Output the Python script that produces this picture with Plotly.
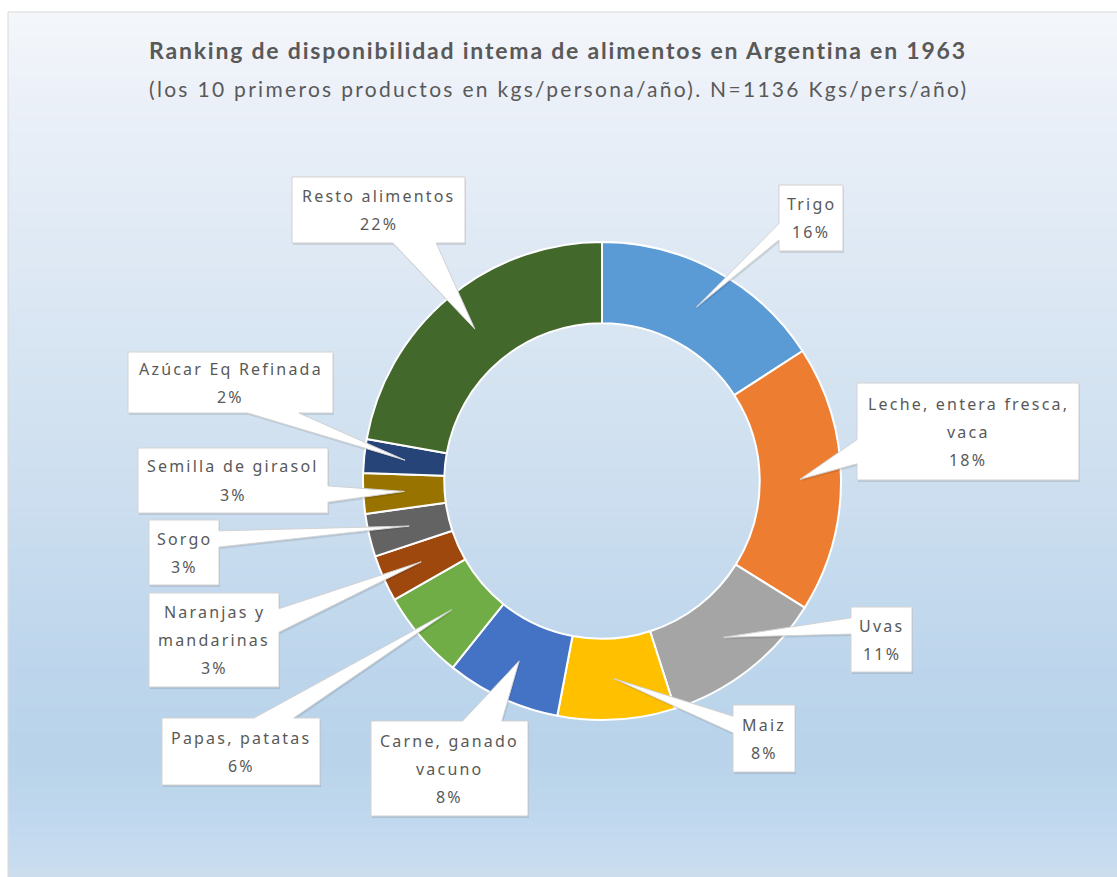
"""
Dona con llamadas tipo Excel: disponibilidad interna de alimentos en Argentina, 1963.
"""

import math

import plotly.graph_objects as go

# Datos (kgs/persona/año, N = 1136)
CATEGORIAS = [
    "Trigo", "Leche, entera fresca, vaca", "Uvas", "Maiz", "Carne, ganado vacuno",
    "Papas, patatas", "Naranjas y mandarinas", "Sorgo", "Semilla de girasol",
    "Azúcar Eq Refinada", "Resto alimentos",
]
ETIQUETAS = [
    ["Trigo"], ["Leche, entera fresca,", "vaca"], ["Uvas"], ["Maiz"],
    ["Carne, ganado", "vacuno"], ["Papas, patatas"], ["Naranjas y", "mandarinas"],
    ["Sorgo"], ["Semilla de girasol"], ["Azúcar Eq Refinada"], ["Resto alimentos"],
]
VALORES = [180, 205, 127, 90, 88, 68, 36, 33, 31, 26, 252]

COLORES = [
    "#5B9BD5", "#ED7D31", "#A5A5A5", "#FFC000", "#4472C4", "#70AD47",
    "#9E480E", "#636363", "#997300", "#264478", "#43682B",
]

TITULO = "Ranking de disponibilidad intema de alimentos en Argentina en 1963"
SUBTITULO = "(los 10 primeros productos en kgs/persona/año). N=1136 Kgs/pers/año)"

# Geometría (px)
W, H = 1117, 877
CX, CY, R = 602, 481, 239
HUECO = 0.66
R_PUNTA = 198
ALTO_LINEA = 28
# cajas de las llamadas: izq, arriba, der, abajo
CAJAS = [
    (779, 185, 843, 251), (857, 383, 1079, 480), (851, 607, 912, 672),
    (733, 705, 795, 772), (371, 721, 528, 816), (162, 718, 320, 785),
    (149, 593, 279, 687), (149, 520, 219, 585), (138, 448, 328, 513),
    (128, 352, 333, 413), (292, 177, 465, 243),
]
GRIS_TEXTO = "#595959"
FUENTE = "Noto Sans"


def px(x):
    return x / W


def py(y):
    return 1 - y / H


def degradado(y):
    """Color del fondo degradado a la altura y (px)."""
    paradas = [
        (12, (244, 246, 250)), (120, (233, 239, 248)), (300, (219, 231, 243)),
        (500, (204, 222, 239)), (650, (190, 214, 236)), (760, (184, 211, 234)),
        (830, (194, 217, 239)), (862, (200, 220, 239)), (877, (205, 223, 237)),
    ]
    for (y0, c0), (y1, c1) in zip(paradas, paradas[1:]):
        if y0 <= y <= y1:
            t = (y - y0) / (y1 - y0)
            c = [round(a + (b - a) * t) for a, b in zip(c0, c1)]
            return f"rgb({c[0]},{c[1]},{c[2]})"
    return "rgb(205,223,237)"


def camino_llamada(caja, punta, dx_off=0, dy_off=0):
    """Rectángulo con cuña (como wedgeRectCallout de Office) en coords paper."""
    l, t, r, b = caja
    w, h = r - l, b - t
    cx, cy = (l + r) / 2, (t + b) / 2
    tx, ty = punta
    dx, dy = tx - cx, ty - cy
    dq = dx * h / w
    dz = abs(dy) - abs(dq)
    x1 = l + w * (7 if dx > 0 else 2) / 12
    x2 = l + w * (10 if dx > 0 else 5) / 12
    y1 = t + h * (7 if dy > 0 else 2) / 12
    y2 = t + h * (10 if dy > 0 else 5) / 12
    lado = ("abajo" if dy > 0 else "arriba") if dz > 0 else ("der" if dx > 0 else "izq")

    pts = [(l, t)]
    if lado == "arriba":
        pts += [(x1, t), (tx, ty), (x2, t)]
    pts.append((r, t))
    if lado == "der":
        pts += [(r, y1), (tx, ty), (r, y2)]
    pts.append((r, b))
    if lado == "abajo":
        pts += [(x2, b), (tx, ty), (x1, b)]
    pts.append((l, b))
    if lado == "izq":
        pts += [(l, y2), (tx, ty), (l, y1)]

    partes = [f"{px(x + dx_off):.5f},{py(y + dy_off):.5f}" for x, y in pts]
    return "M" + " L".join(partes) + " Z"


fig = go.Figure()

fig.add_trace(go.Pie(
    labels=CATEGORIAS,
    values=VALORES,
    marker=dict(colors=COLORES, line=dict(color="white", width=2)),
    hole=HUECO,
    sort=False,
    direction="clockwise",
    rotation=0,
    textinfo="none",
    showlegend=False,
    domain=dict(x=[px(CX - R), px(CX + R)], y=[py(CY + R), py(CY - R)]),
))

formas = []
# fondo degradado dentro del marco
paso = 5
for y in range(12, H, paso):
    formas.append(dict(
        type="rect", xref="paper", yref="paper", layer="below",
        x0=px(8), x1=1, y0=py(y + paso), y1=py(y),
        fillcolor=degradado(y + paso / 2), line=dict(width=0),
    ))
formas.append(dict(
    type="rect", xref="paper", yref="paper", layer="below",
    x0=px(8), x1=px(W + 5), y0=py(H + 5), y1=py(12),
    fillcolor="rgba(0,0,0,0)", line=dict(color="#d9d9d9", width=1),
))

anotaciones = []
total = sum(VALORES)
acum = 0
for i, v in enumerate(VALORES):
    theta = 2 * math.pi * (acum + v / 2) / total
    acum += v
    punta = (CX + R_PUNTA * math.sin(theta), CY - R_PUNTA * math.cos(theta))
    caja = CAJAS[i]

    # sombra y llamada
    formas.append(dict(
        type="path", xref="paper", yref="paper", layer="above",
        path=camino_llamada(caja, punta, 1, 2),
        fillcolor="rgba(0,0,0,0.10)", line=dict(width=0),
    ))
    formas.append(dict(
        type="path", xref="paper", yref="paper", layer="above",
        path=camino_llamada(caja, punta),
        fillcolor="white", line=dict(color="#d2d2d2", width=1),
    ))

    lineas = ETIQUETAS[i] + [f"{round(v / total * 100)}%"]
    cx = (caja[0] + caja[2]) / 2
    cy = (caja[1] + caja[3]) / 2
    n = len(lineas)
    for k, texto in enumerate(lineas):
        yk = cy + (k - (n - 1) / 2) * ALTO_LINEA
        anotaciones.append(dict(
            x=px(cx), y=py(yk), xref="paper", yref="paper",
            xanchor="center", yanchor="middle", showarrow=False,
            text=f"<span style='letter-spacing:2.2px'>{texto}</span>",
            font=dict(family=FUENTE, size=16, color=GRIS_TEXTO),
        ))

anotaciones.append(dict(
    x=px(558), y=py(50), xref="paper", yref="paper",
    xanchor="center", yanchor="middle", showarrow=False,
    text=f"<span style='letter-spacing:1.8px'><b>{TITULO}</b></span>",
    font=dict(family="Lato", size=23, color=GRIS_TEXTO),
))
anotaciones.append(dict(
    x=px(558), y=py(88), xref="paper", yref="paper",
    xanchor="center", yanchor="middle", showarrow=False,
    text=f"<span style='letter-spacing:2.3px'>{SUBTITULO}</span>",
    font=dict(family="Lato", size=21, color=GRIS_TEXTO),
))

fig.update_layout(
    width=W,
    height=H,
    margin=dict(l=0, r=0, t=0, b=0),
    paper_bgcolor="white",
    plot_bgcolor="white",
    shapes=formas,
    annotations=anotaciones,
)

# sin margen del body, para que la figura ocupe la ventana completa
fig.write_html(
    "out.html",
    config={"displayModeBar": False},
    post_script="document.body.style.margin = '0px';",
)
